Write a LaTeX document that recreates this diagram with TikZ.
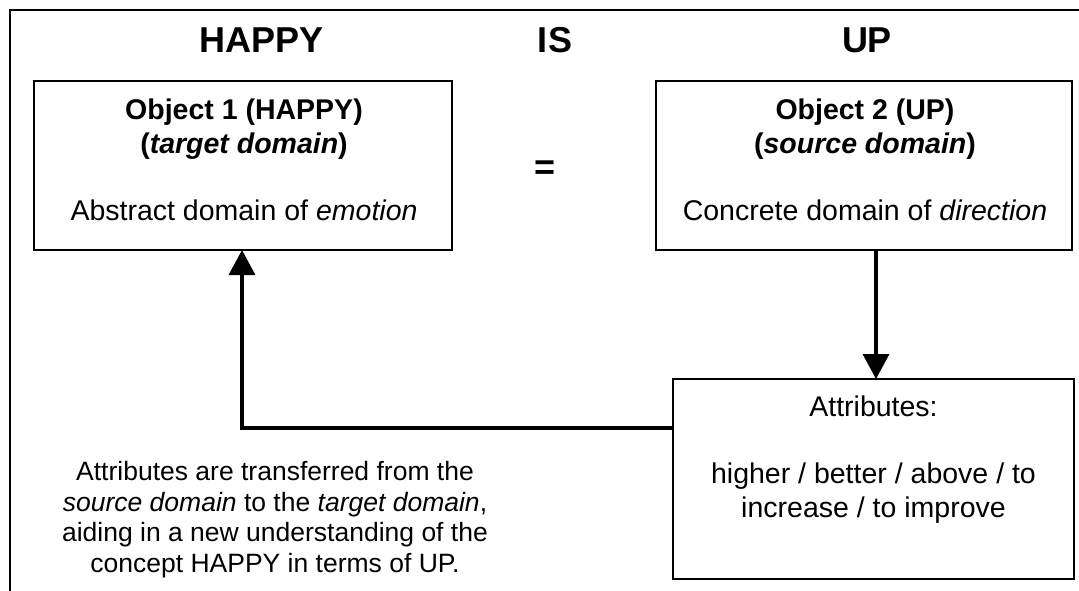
\documentclass[tikz,border=0pt]{standalone}
\usepackage{fontspec}
\setmainfont{Liberation Sans}
\usetikzlibrary{arrows.meta,calc}
\begin{document}
\begin{tikzpicture}[x=1pt,y=-1pt,
  frameline/.style={line width=2.5pt},
  box/.style={draw,line width=1.5pt,inner sep=0pt,outer sep=0pt},
  boxtext/.style={align=center,font=\fontsize{28.5}{33.5}\selectfont,inner sep=0pt},
  title/.style={font=\bfseries\fontsize{36}{42}\selectfont,inner sep=0pt},
  note/.style={align=center,font=\fontsize{26.5}{30.5}\selectfont,inner sep=0pt},
  link/.style={line width=3.5pt,-{Triangle[width=26pt,length=25pt]}}]
\useasboundingbox[fill=white] (0,0) rectangle (1079,591);
% outer frame (partly visible)
\draw[frameline] (10,591) -- (10,10) -- (1079,10);
% titles
\node[title,anchor=base] (happy) at (262,53) {HAPPY};
\node[title,anchor=base] (is) at (555,53) {IS};
\node[title,anchor=base] (up) at (867,53) {UP};
\node[title] (eq) at (545,170) {=};
% boxes
\node[box,minimum width=418pt,minimum height=169pt] (obj1) at (243,165.5) {};
\node[box,minimum width=416pt,minimum height=169pt] (obj2) at (864,165.5) {};
\node[box,minimum width=401pt,minimum height=200pt] (attr) at (873.5,479) {};
% box texts (anchor base = baseline of last line)
\node[boxtext,anchor=base] (obj1t) at (244,220)
  {\textbf{Object 1 (HAPPY)}\\\textbf{(\textit{target domain})}\\[33.5pt]Abstract domain of \textit{emotion}};
\node[boxtext,anchor=base] (obj2t) at (865,220)
  {\textbf{Object 2 (UP)}\\\textbf{(\textit{source domain})}\\[33.5pt]Concrete domain of \textit{direction}};
\node[boxtext,anchor=base] (attrt) at (873.5,517)
  {Attributes:\\[33.5pt]higher / better / above / to\\increase / to improve};
% note
\node[note,anchor=base] (noteT) at (275,572)
  {Attributes are transferred from the\\\textit{source domain} to the \textit{target domain},\\aiding in a new understanding of the\\concept HAPPY in terms of UP.};
% connectors
\coordinate (dn) at (876,0);
\coordinate (turn) at (242,428);
\draw[link] (obj2.south -| dn) -- (attr.north -| dn);
\draw[link] (attr.west |- turn) -- (turn) -- (obj1.south -| turn);
\end{tikzpicture}
\end{document}
